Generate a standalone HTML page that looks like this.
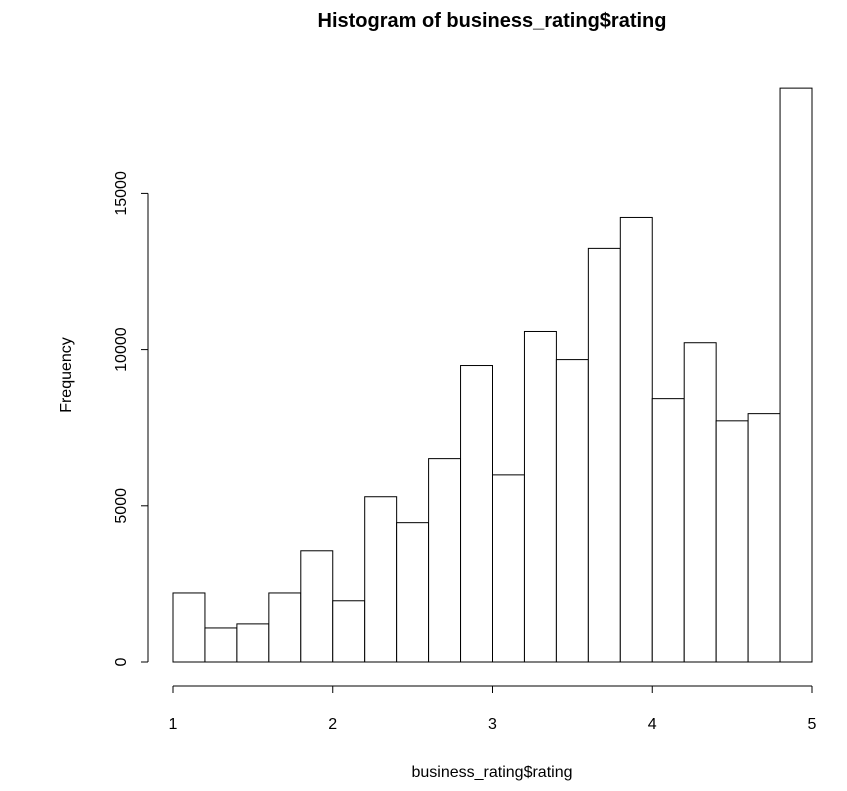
<!DOCTYPE html>
<html><head><meta charset="utf-8"><style>
html,body{margin:0;padding:0;background:#fff;}
svg text{font-family:"Liberation Sans",Arial,sans-serif;fill:#000;}
</style></head><body>
<svg id="chart" width="847" height="786" xmlns="http://www.w3.org/2000/svg">
<text x="492" y="27" text-anchor="middle" font-size="20" font-weight="bold">Histogram of business_rating$rating</text>
<text x="492" y="777" text-anchor="middle" font-size="16">business_rating$rating</text>
<text transform="translate(71,375) rotate(-90)" text-anchor="middle" font-size="16">Frequency</text>
<g id="bars"></g>
<g id="xaxis"></g>
<g id="yaxis"></g>
</svg>
<script>
const binStart = 1, binWidth = 0.2;
const counts = [2210,1090,1220,2210,3560,1960,5290,4460,6510,9490,5990,10580,9680,13240,14230,8430,10220,7720,7950,18370];
const xTicks = [1,2,3,4,5];
const yTicks = [0,5000,10000,15000];
const NS="http://www.w3.org/2000/svg";
const xs = v => 173 + (v-1)*159.75;
const ys = v => 662 - v*0.03124;
function mk(tag,attrs,parent){const e=document.createElementNS(NS,tag);for(const k in attrs)e.setAttribute(k,attrs[k]);parent.appendChild(e);return e;}
const bars=document.getElementById('bars');
counts.forEach((c,i)=>{
  const x0=xs(binStart+i*binWidth), x1=xs(binStart+(i+1)*binWidth);
  const r=mk('rect',{x:x0,y:ys(c),width:x1-x0,height:ys(0)-ys(c),fill:'#fff',stroke:'#000','stroke-width':1},bars);
  
  
});
const xa=document.getElementById('xaxis');
mk('line',{x1:xs(xTicks[0]),x2:xs(xTicks[xTicks.length-1]),y1:686,y2:686,stroke:'#000'},xa);
xTicks.forEach(t=>{
  mk('line',{x1:xs(t),x2:xs(t),y1:686,y2:693,stroke:'#000'},xa);
  const l=mk('text',{x:xs(t),y:729,'text-anchor':'middle','font-size':16},xa);
  l.textContent=t;
  
  
});
const ya=document.getElementById('yaxis');
mk('line',{x1:148,x2:148,y1:ys(yTicks[0]),y2:ys(yTicks[yTicks.length-1]),stroke:'#000'},ya);
yTicks.forEach(t=>{
  mk('line',{x1:141,x2:148,y1:ys(t),y2:ys(t),stroke:'#000'},ya);
  const l=mk('text',{transform:`translate(126,${ys(t)}) rotate(-90)`,'text-anchor':'middle','font-size':16},ya);
  l.textContent=t;
  
  
});
</script>
</body></html>
